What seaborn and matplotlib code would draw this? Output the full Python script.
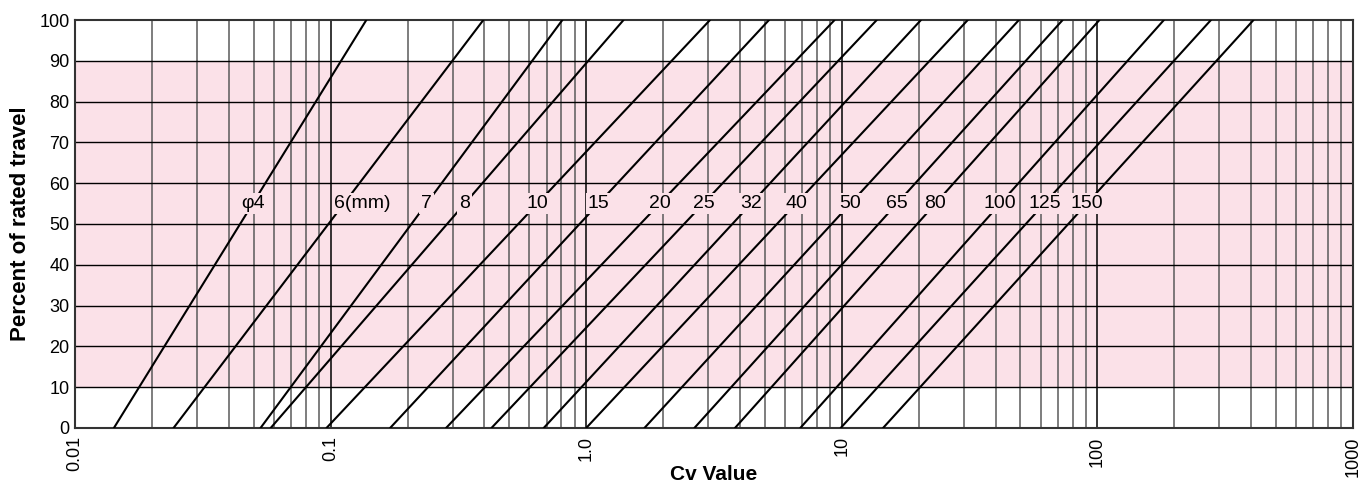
import numpy as np
import pandas as pd
import seaborn as sns
import matplotlib.pyplot as plt

# valve sizes (mm) and Cv where each line meets 0% and 100% rated travel
sizes = ["φ4", "6", "7", "8", "10", "15", "20", "25", "32", "40",
         "50", "65", "80", "100", "125", "150"]
cv_at_0 = [0.0142, 0.0243, 0.0532, 0.0583, 0.0964, 0.171, 0.283, 0.426,
           0.682, 1.0, 1.69, 2.65, 3.82, 6.88, 9.9, 14.5]
cv_at_100 = [0.138, 0.396, 0.807, 1.40, 3.05, 5.19, 9.37, 13.7,
             20.4, 31.1, 49.3, 73.1, 101.8, 182, 278, 408]
travel = [0, 100]
label_travel = 55
x_ticks = [0.01, 0.1, 1, 10, 100, 1000]
x_tick_labels = ["0.01", "0.1", "1.0", "10", "100", "1000"]
y_ticks = list(range(0, 101, 10))
band = (10, 90)

rows = []
for s, a, b in zip(sizes, cv_at_0, cv_at_100):
    rows.append({"size": s, "cv": a, "travel": travel[0]})
    rows.append({"size": s, "cv": b, "travel": travel[1]})
df = pd.DataFrame(rows)

sns.set_style("white")
plt.rcParams['font.family'] = ['Liberation Sans Narrow', 'Liberation Sans', 'DejaVu Sans']
plt.rcParams['text.color'] = 'black'
plt.rcParams['xtick.color'] = 'black'
plt.rcParams['ytick.color'] = 'black'
plt.rcParams['axes.labelcolor'] = 'black'

pink = "#fbe1e8"
fig = plt.figure(figsize=(13.63, 4.88), dpi=100)
ax = fig.add_axes([0.055, 0.123, 0.9377, 0.836])

ax.axhspan(band[0], band[1], color=pink, zorder=0, lw=0)

sns.lineplot(data=df, x="cv", y="travel", units="size", estimator=None,
             color="black", lw=1.5, ax=ax, zorder=3)

ax.set_xscale("log")
ax.set_xlim(0.01, 1000)
ax.set_ylim(0, 100)

# vertical grid: 1..9 of every decade
for dec in [0.01, 0.1, 1, 10, 100]:
    for k in range(2, 10):
        ax.axvline(dec * k, color="#5a5a5a", lw=1.1, zorder=1)
for v in x_ticks[1:-1]:
    ax.axvline(v, color="black", lw=1.1, zorder=1)
for h in y_ticks[1:-1]:
    ax.axhline(h, color="black", lw=1.0, zorder=1)

# size labels sitting on the lines
for s, a, b in zip(sizes, cv_at_0, cv_at_100):
    la, lb = np.log10(a), np.log10(b)
    xl = 10 ** (la + (lb - la) * label_travel / 100)
    if s == "6":
        ax.annotate("6(mm)", (xl, label_travel), xytext=(-7, 0), textcoords="offset points",
                    ha="left", va="center", fontsize=14, zorder=5,
                    bbox=dict(boxstyle="square,pad=0.1", fc=pink, ec="none"))
    else:
        ax.text(xl, label_travel, s, ha="center", va="center", fontsize=14, zorder=5,
                bbox=dict(boxstyle="square,pad=0.1", fc=pink, ec="none"))

ax.set_xticks(x_ticks)
ax.set_xticklabels(x_tick_labels, rotation=90, fontsize=13)
ax.xaxis.set_minor_locator(plt.NullLocator())
ax.set_yticks(y_ticks)
ax.set_yticklabels([str(v) for v in y_ticks], fontsize=13)
ax.tick_params(length=0, pad=4)
ax.tick_params(axis="x", pad=6)

ax.set_xlabel("Cv Value", fontsize=15, fontweight="bold", family=['Liberation Sans', 'DejaVu Sans'])
ax.xaxis.set_label_coords(0.5, -0.09)
ax.set_ylabel("Percent of rated travel", fontsize=16, fontweight="bold",
              family=['Liberation Sans', 'DejaVu Sans'], labelpad=6)

for sp in ax.spines.values():
    sp.set_color("#333333")
    sp.set_linewidth(1.5)
    sp.set_visible(True)

fig.savefig("out.png", dpi=100)
